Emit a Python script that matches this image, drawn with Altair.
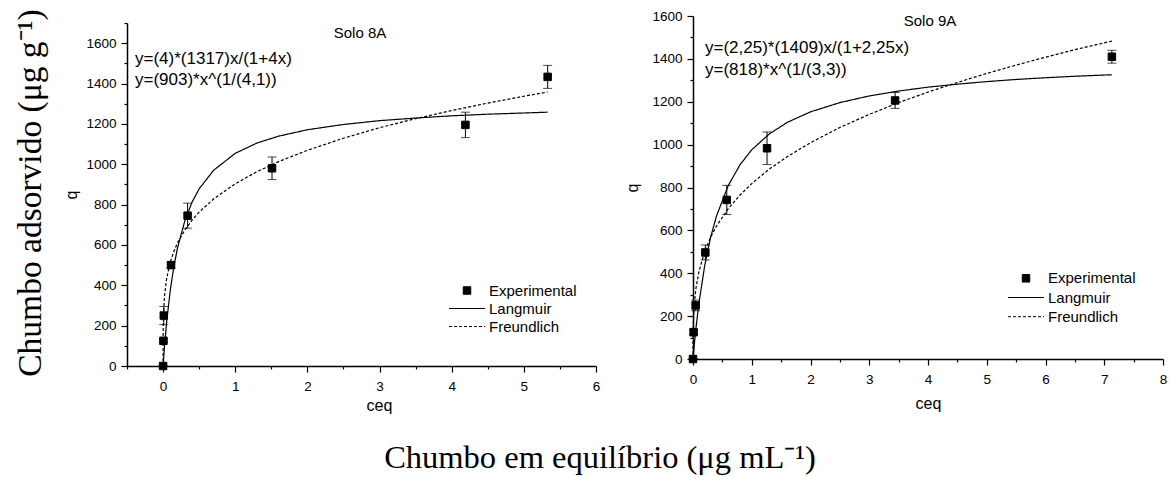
import altair as alt
import pandas as pd

SANS = "Liberation Sans, Arial, sans-serif"
SERIF = "Liberation Serif, Times New Roman, serif"
SERIES = ["Experimental", "Langmuir", "Freundlich"]

# ---------------- Solo 8A ----------------
a_ceq = [0, 0.005, 0.01, 0.11, 0.34, 1.51, 4.19, 5.33]
a_q = [0, 125, 250, 500, 745, 980, 1195, 1433]
a_err = [0, 8, 45, 15, 62, 56, 63, 57]
a_lang_x = [0, 0.02, 0.05, 0.1, 0.15, 0.2, 0.3, 0.4, 0.5, 0.7, 1.0, 1.3, 1.6, 2.0,
            2.5, 3.0, 3.5, 4.0, 4.5, 5.0, 5.33]
a_lang_y = [0, 98, 220, 376, 494, 585, 718, 811, 878, 970, 1054, 1105, 1139, 1171,
            1197, 1216, 1229, 1240, 1248, 1254, 1258]
a_freu_x = [0, 0.001, 0.005, 0.02, 0.05, 0.1, 0.15, 0.2, 0.3, 0.4, 0.5, 0.7, 1.0, 1.3,
            1.6, 2.0, 2.5, 3.0, 3.5, 4.0, 4.5, 5.0, 5.33]
a_freu_y = [0, 167, 248, 348, 435, 515, 569, 610, 673, 722, 763, 828, 903, 963,
            1013, 1069, 1129, 1181, 1226, 1266, 1303, 1337, 1358]
a_title = "Solo 8A"
a_eqs = ["y=(4)*(1317)x/(1+4x)", "y=(903)*x^(1/(4,1))"]

# ---------------- Solo 9A ----------------
b_ceq = [0, 0.01, 0.045, 0.21, 0.575, 1.26, 3.44, 7.13]
b_q = [0, 125, 250, 497, 742, 983, 1206, 1410]
b_err = [0, 10, 25, 35, 68, 76, 37, 30]
b_lang_x = [0, 0.02, 0.05, 0.1, 0.2, 0.3, 0.4, 0.6, 0.8, 1.0, 1.3, 1.6, 2.0, 2.5,
            3.0, 3.5, 4.0, 4.5, 5.0, 5.5, 6.0, 6.5, 7.13]
b_lang_y = [0, 61, 143, 259, 437, 568, 667, 809, 906, 976, 1050, 1103, 1153, 1196,
            1227, 1250, 1268, 1282, 1294, 1304, 1312, 1319, 1326]
b_freu_x = [0, 0.001, 0.005, 0.02, 0.05, 0.1, 0.2, 0.3, 0.4, 0.6, 0.8, 1.0, 1.3, 1.6,
            2.0, 2.5, 3.0, 3.5, 4.0, 4.5, 5.0, 5.5, 6.0, 6.5, 7.13]
b_freu_y = [0, 101, 164, 250, 330, 407, 502, 568, 620, 701, 765, 818, 886, 943,
            1009, 1080, 1141, 1196, 1245, 1290, 1332, 1371, 1408, 1443, 1483]
b_title = "Solo 9A"
b_eqs = ["y=(2,25)*(1409)x/(1+2,25x)", "y=(818)*x^(1/(3,3))"]

y_label_outer = "Chumbo adsorvido (μg g⁻¹)"
x_label_outer = "Chumbo em equilíbrio (μg mL⁻¹)"


def text_layer(s, px, py, size, font=SANS, align="left", baseline="middle", angle=0):
    kw = dict(align=align, baseline=baseline, font=font, fontSize=size, color="black")
    if angle:
        kw["angle"] = angle
    return alt.Chart(pd.DataFrame({"t": [s]})).mark_text(**kw).encode(
        text="t:N", x=alt.value(px), y=alt.value(py))


def anchor(px, py):
    return alt.Chart(pd.DataFrame({"a": [0]})).mark_rule(opacity=0).encode(
        x=alt.value(px), x2=alt.value(px), y=alt.value(py), y2=alt.value(py))


def legend_layers(cx, rows):
    one = pd.DataFrame({"a": [0]})
    sq = alt.Chart(one).mark_point(shape="square", filled=True, size=56, opacity=1,
                                   color="black", stroke="black", strokeWidth=1).encode(
        x=alt.value(cx), y=alt.value(rows[0]))
    solid = alt.Chart(one).mark_rule(color="black", strokeWidth=1).encode(
        x=alt.value(cx - 18), x2=alt.value(cx + 18), y=alt.value(rows[1]), y2=alt.value(rows[1]))
    dashed = alt.Chart(one).mark_rule(color="black", strokeWidth=1, strokeDash=[3, 2]).encode(
        x=alt.value(cx - 18), x2=alt.value(cx + 18), y=alt.value(rows[2]), y2=alt.value(rows[2]))
    labels = [text_layer(s, cx + 22, r, 15) for s, r in zip(SERIES, rows)]
    return [sq, solid, dashed] + labels


def panel(ceq, q, err, lx, ly, fx, fy, xdom, xmax_tick, ydom, width, height, yrange,
          title, title_pos, eqs, eq_pos, leg_x, leg_rows, ytp, xtx, xty, extras):
    pts = pd.DataFrame({"ceq": ceq, "q": q,
                        "lo": [a - b for a, b in zip(q, err)],
                        "hi": [a + b for a, b in zip(q, err)]})
    curves = pd.concat([
        pd.DataFrame({"ceq": lx, "q": ly, "series": SERIES[1]}),
        pd.DataFrame({"ceq": fx, "q": fy, "series": SERIES[2]}),
    ])
    xvals = [v / 2 for v in range(int(xdom[0] * 2), int(xmax_tick * 2) + 1)]
    yvals = list(range(0, ydom[1] + 1, 100))
    xs = alt.Scale(domain=xdom, nice=False, zero=False)
    ys = alt.Scale(domain=ydom, nice=False, range=yrange)
    xaxis = alt.Axis(values=xvals, format="~g",
                     labelExpr="datum.value % 1 === 0 ? datum.label : ''",
                     tickSize={"condition": {"test": "datum.value % 1 === 0", "value": 6}, "value": 3},
                     labelOverlap=False, labelFlush=False, labelPadding=7,
                     titleX=xtx, titleY=xty, titleBaseline="alphabetic")
    yaxis = alt.Axis(values=yvals, format="d",
                     labelExpr="datum.value % 200 === 0 ? datum.label : ''",
                     tickSize={"condition": {"test": "datum.value % 200 === 0", "value": 6}, "value": 3},
                     labelOverlap=False, labelFlush=False, labelPadding=5, titlePadding=ytp)
    X = alt.X("ceq:Q", scale=xs, axis=xaxis, title="ceq")

    def Y(f):
        return alt.Y(f, scale=ys, axis=yaxis, title="q")

    lines = alt.Chart(curves).mark_line(strokeWidth=1.2, color="black").encode(
        x=X, y=Y("q:Q"), detail="series:N",
        strokeDash=alt.StrokeDash("series:N", scale=alt.Scale(domain=SERIES[1:],
                                  range=[[1, 0], [3, 2]]), legend=None))
    bars = alt.Chart(pts).mark_rule(color="black", strokeWidth=1).encode(
        x=X, y=Y("lo:Q"), y2="hi:Q")
    cap_lo = alt.Chart(pts).mark_tick(color="black", size=9, thickness=1, orient="horizontal").encode(
        x=X, y=Y("lo:Q"))
    cap_hi = alt.Chart(pts).mark_tick(color="black", size=9, thickness=1, orient="horizontal").encode(
        x=X, y=Y("hi:Q"))
    points = alt.Chart(pts).mark_point(shape="square", filled=True, size=56, opacity=1,
                                       color="black", stroke="black", strokeWidth=1).encode(
        x=X, y=Y("q:Q"))
    layers = [lines, bars, cap_lo, cap_hi, points,
              text_layer(title, title_pos[0], title_pos[1], 15, align="center"),
              text_layer(eqs[0], eq_pos[0], eq_pos[1], 17),
              text_layer(eqs[1], eq_pos[0], eq_pos[2], 17)] + legend_layers(leg_x, leg_rows) + extras
    return alt.layer(*layers).properties(width=width, height=height)


left = panel(a_ceq, a_q, a_err, a_lang_x, a_lang_y, a_freu_x, a_freu_y,
             [-0.5, 6], 6, [0, 1700], 469, 350, [350, 7],
             a_title, (233, 17), a_eqs, (8, 43, 64), 340, [274.5, 292.5, 310.5], 6, 252, 44.5,
             [text_layer(y_label_outer, -86, 177, 33.5, font=SERIF, align="center",
                         baseline="alphabetic", angle=270),
              text_layer(x_label_outer, 473, 452, 32.5, font=SERIF, align="center",
                         baseline="alphabetic"),
              anchor(-127, -16)])

right = panel(b_ceq, b_q, b_err, b_lang_x, b_lang_y, b_freu_x, b_freu_y,
              [0, 8], 8, [0, 1600], 470, 343, [343, 0],
              b_title, (237, 5), b_eqs, (12, 32, 54), 333, [262.3, 281.5, 300.7], 11, 235, 49,
              [anchor(477, 461)])

chart = alt.hconcat(left, right, spacing=97, bounds="flush").resolve_scale(
    strokeDash="independent"
).properties(padding=0).configure_view(stroke=None).configure_axis(
    domainColor="black", domainWidth=1.5, tickColor="black", tickWidth=1.2,
    labelColor="black", titleColor="black", labelFont=SANS, titleFont=SANS,
    labelFontSize=13.5, titleFontSize=16, titleFontWeight="normal", grid=False)

chart.save("out.html", embed_options={"renderer": "svg", "actions": False})
